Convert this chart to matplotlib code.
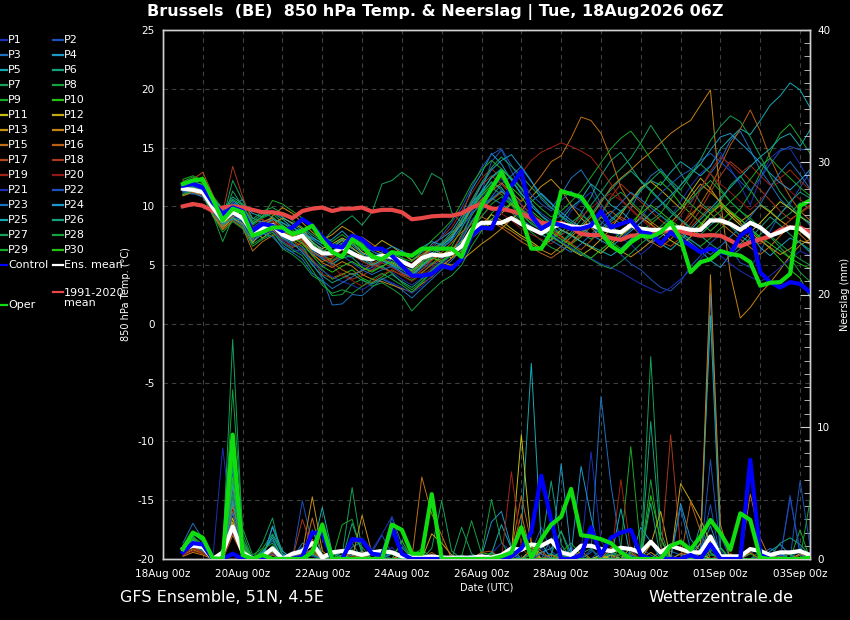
import matplotlib
matplotlib.use("Agg")
import matplotlib.pyplot as plt
import matplotlib.dates as mdates
from matplotlib.lines import Line2D
from matplotlib.ticker import MultipleLocator
import pandas as pd

plt.rcParams['axes.unicode_minus'] = False

# --- time axis: 6-hourly steps from 18Aug 12Z ---
times = pd.date_range("2026-08-18 12:00", periods=64, freq="6h")
tick_days = pd.date_range("2026-08-18", "2026-09-03", freq="2D")
grid_days = pd.date_range("2026-08-18", "2026-09-03", freq="1D")

# --- 850 hPa temperature, members (degC) ---
t_p1 = [11.2, 11.0, 11.5, 9.8, 8.6, 9.2, 8.8, 7.4, 7.9, 8.3, 7.1, 6.8, 6.2, 5.4, 4.8, 5.3,
        5.9, 5.6, 5.0, 4.6, 4.9, 4.4, 3.8, 3.3, 3.9, 4.8, 5.5, 6.2, 7.4, 9.6, 10.8, 11.6,
        12.3, 11.4, 10.2, 9.1, 8.0, 7.4, 8.2, 9.6, 10.5, 11.2, 9.8, 8.6, 7.3, 6.8, 5.9, 6.6,
        7.8, 9.1, 10.4, 11.7, 12.8, 13.5, 14.6, 13.2, 11.8, 10.1, 12.4, 14.1, 14.8, 14.9, 13.6, 12.0]
t_p2 = [11.6, 11.8, 11.4, 10.1, 9.0, 10.4, 9.6, 8.2, 8.8, 8.0, 7.4, 7.0, 7.6, 6.3, 5.6, 5.0,
        5.8, 5.2, 4.6, 4.8, 5.3, 5.0, 4.4, 3.9, 4.6, 5.2, 5.0, 5.6, 7.1, 9.4, 11.2, 13.8,
        14.8, 13.0, 11.4, 10.2, 9.4, 8.8, 9.2, 10.1, 9.6, 8.4, 7.6, 6.8, 5.9, 5.1, 4.6, 3.8,
        3.1, 2.8, 3.6, 4.9, 5.8, 6.9, 7.6, 6.4, 5.2, 4.8, 6.1, 7.9, 9.4, 10.2, 11.6, 12.9]
t_p3 = [11.0, 11.3, 10.9, 9.5, 8.2, 9.1, 8.6, 7.0, 7.6, 7.9, 6.7, 6.1, 6.4, 5.1, 3.9, 1.6,
        1.7, 2.5, 2.4, 3.1, 3.8, 3.4, 2.9, 2.2, 3.0, 3.8, 4.6, 5.4, 6.3, 8.1, 9.6, 10.8,
        11.9, 12.6, 13.4, 12.2, 10.6, 9.8, 11.0, 12.4, 13.1, 11.8, 10.2, 9.1, 8.5, 9.8, 11.4, 12.6,
        13.2, 12.1, 11.0, 10.3, 11.6, 12.8, 13.9, 15.6, 16.4, 14.8, 13.1, 11.9, 10.6, 9.8, 9.2, 8.4]
t_p4 = [11.4, 11.9, 11.7, 10.4, 9.3, 10.0, 10.6, 9.0, 8.6, 9.1, 8.4, 7.8, 8.1, 7.4, 6.8, 7.2,
        7.9, 7.1, 6.6, 6.2, 5.8, 5.5, 4.9, 4.6, 5.6, 6.8, 7.3, 7.9, 9.2, 11.4, 12.8, 14.5,
        13.6, 12.2, 11.0, 10.4, 11.1, 10.3, 9.2, 8.6, 8.0, 7.5, 8.1, 8.9, 9.6, 8.8, 7.5, 6.9,
        7.4, 8.1, 7.6, 6.9, 6.2, 5.4, 4.8, 5.9, 6.8, 7.7, 6.5, 5.8, 6.6, 7.3, 6.9, 6.1]
t_p5 = [11.9, 12.3, 12.1, 10.8, 9.6, 10.8, 10.2, 9.4, 9.1, 9.5, 8.9, 8.2, 7.8, 7.2, 6.6, 6.2,
        6.9, 6.4, 5.9, 5.2, 4.8, 5.6, 6.2, 5.4, 6.1, 6.6, 6.4, 7.2, 8.8, 10.3, 11.2, 12.0,
        11.6, 10.4, 9.8, 9.1, 8.4, 7.9, 8.8, 9.9, 10.6, 11.9, 11.2, 10.1, 9.6, 10.4, 11.5, 12.2,
        11.8, 12.9, 13.8, 13.2, 12.6, 13.4, 14.9, 15.8, 16.6, 16.1, 17.3, 18.6, 19.4, 20.5, 19.9, 18.4]
t_p6 = [11.3, 11.6, 11.9, 9.6, 8.4, 9.4, 9.0, 7.6, 8.2, 8.6, 7.9, 7.5, 7.0, 6.2, 5.5, 5.1,
        5.6, 5.8, 5.4, 4.9, 5.5, 6.1, 5.6, 5.0, 5.8, 6.4, 6.9, 7.8, 8.4, 10.1, 11.3, 12.4,
        13.1, 12.4, 11.6, 10.3, 9.2, 8.4, 7.6, 8.1, 9.4, 10.8, 12.6, 13.9, 14.6, 13.4, 12.1, 11.3,
        10.4, 9.5, 8.8, 8.1, 7.6, 8.4, 9.1, 8.3, 7.5, 6.9, 7.6, 8.4, 9.3, 10.4, 11.2, 10.7]
t_p7 = [11.7, 12.0, 11.8, 10.2, 8.9, 12.2, 10.5, 8.9, 9.6, 9.9, 9.4, 8.8, 8.2, 7.6, 7.0, 7.9,
        8.6, 9.2, 8.4, 9.5, 11.9, 12.2, 12.9, 12.3, 11.0, 12.8, 12.3, 9.5, 8.6, 9.8, 11.0, 12.1,
        11.4, 10.2, 9.3, 8.5, 8.0, 7.4, 6.9, 7.8, 8.9, 10.1, 11.2, 12.4, 13.2, 14.1, 15.4, 16.9,
        15.6, 14.2, 12.8, 11.6, 10.3, 9.6, 10.4, 11.8, 12.6, 11.4, 10.2, 9.6, 8.8, 9.4, 10.3, 9.8]
t_p8 = [11.1, 11.4, 11.2, 9.3, 7.0, 9.0, 8.3, 6.6, 7.2, 7.6, 6.4, 5.9, 5.2, 4.1, 3.6, 2.4,
        2.5, 3.4, 3.8, 3.2, 3.5, 3.0, 2.4, 1.1, 2.0, 2.8, 3.6, 4.1, 5.0, 6.6, 7.9, 9.4,
        10.2, 9.5, 8.6, 7.8, 7.1, 6.5, 6.1, 6.9, 7.8, 8.4, 9.3, 10.6, 11.2, 10.4, 9.6, 8.8,
        9.4, 10.6, 11.8, 12.9, 13.6, 12.8, 11.5, 10.4, 9.6, 9.0, 8.2, 7.4, 6.5, 5.6, 4.4, 3.6]
t_p9 = [12.1, 12.5, 12.0, 10.9, 9.8, 10.2, 9.8, 8.4, 9.0, 9.4, 8.6, 8.0, 7.3, 6.8, 5.9, 5.4,
        6.0, 5.7, 4.8, 4.5, 4.9, 4.3, 3.5, 2.9, 3.6, 4.5, 5.2, 6.0, 7.6, 9.2, 10.5, 11.6,
        11.0, 10.1, 9.0, 8.1, 7.6, 7.1, 7.8, 8.6, 9.3, 8.6, 7.7, 7.0, 6.4, 7.1, 7.9, 8.5,
        9.2, 8.6, 7.8, 7.1, 6.6, 7.3, 8.1, 8.9, 9.8, 11.1, 12.8, 14.6, 16.2, 17.0, 15.8, 14.5]
t_p10 = [11.8, 12.1, 12.5, 10.5, 9.1, 9.7, 9.1, 7.7, 8.4, 8.8, 7.5, 7.1, 6.6, 5.3, 4.6, 3.8,
         4.2, 4.6, 3.9, 3.5, 4.0, 4.6, 4.1, 3.7, 4.3, 5.1, 5.8, 6.6, 8.1, 9.9, 10.9, 11.8,
         12.5, 11.6, 10.8, 9.6, 8.9, 8.2, 7.5, 6.8, 7.4, 8.3, 9.1, 8.4, 7.6, 8.1, 9.6, 11.2,
         12.1, 11.3, 10.2, 9.4, 8.6, 7.9, 8.7, 9.5, 8.9, 8.1, 7.2, 6.4, 5.5, 4.6, 3.9, 2.3]
t_p11 = [11.5, 11.7, 11.3, 9.7, 8.5, 9.3, 9.6, 8.1, 7.3, 8.0, 7.7, 7.4, 7.9, 6.9, 6.4, 6.8,
         7.3, 6.9, 6.1, 5.7, 5.4, 5.2, 4.8, 4.2, 5.0, 5.5, 5.9, 6.3, 7.0, 7.8, 8.4, 9.3,
         8.8, 8.1, 7.5, 7.0, 6.4, 7.2, 8.0, 7.6, 7.0, 6.5, 6.0, 6.8, 7.5, 8.2, 9.1, 8.5,
         7.8, 7.1, 6.6, 7.4, 8.3, 9.4, 10.1, 9.2, 8.4, 7.8, 8.6, 9.5, 10.4, 9.8, 9.1, 8.6]
t_p12 = [10.9, 11.2, 11.0, 9.2, 8.1, 9.0, 8.5, 6.9, 7.9, 8.5, 9.0, 8.6, 8.1, 7.0, 6.2, 6.5,
         7.1, 6.5, 5.8, 6.4, 7.1, 6.6, 6.0, 5.4, 5.9, 6.4, 6.0, 5.6, 6.2, 7.3, 8.0, 8.6,
         9.4, 10.2, 9.5, 8.8, 8.1, 7.5, 6.9, 6.3, 5.8, 6.4, 7.2, 8.1, 9.3, 10.5, 11.6, 12.1,
         11.4, 10.6, 9.8, 11.2, 12.4, 11.5, 10.3, 9.4, 8.7, 9.3, 10.1, 9.5, 8.8, 8.2, 7.9, 7.2]
t_p13 = [11.6, 11.4, 11.1, 9.9, 8.7, 9.4, 8.9, 7.2, 8.0, 9.2, 9.9, 9.4, 8.6, 7.8, 7.1, 7.6,
         8.3, 7.8, 7.0, 6.4, 6.0, 5.5, 5.0, 4.5, 5.3, 5.7, 5.2, 5.0, 5.4, 6.1, 6.8, 7.4,
         8.1, 8.9, 9.6, 10.8, 11.7, 12.3, 11.4, 10.1, 9.0, 8.2, 7.4, 6.7, 6.2, 5.7, 6.3, 7.0,
         7.8, 8.6, 9.5, 10.8, 11.9, 11.2, 10.4, 9.5, 8.6, 7.8, 7.1, 6.5, 5.9, 6.4, 7.1, 6.8]
t_p14 = [11.3, 11.5, 11.7, 10.0, 8.3, 9.1, 9.3, 7.9, 8.7, 9.0, 8.1, 7.4, 7.2, 6.0, 5.2, 4.8,
         5.3, 4.9, 4.2, 3.8, 3.6, 3.3, 3.0, 2.7, 3.4, 4.0, 4.9, 5.6, 6.8, 7.6, 8.3, 8.9,
         8.4, 7.9, 7.3, 6.8, 6.3, 5.9, 6.6, 7.4, 8.2, 9.1, 10.3, 11.6, 12.4, 13.1, 13.9, 14.6,
         15.4, 16.2, 16.8, 17.3, 18.6, 19.9, 10.5, 4.2, 0.5, 1.4, 2.6, 3.5, 4.6, 5.8, 6.7, 7.2]
t_p15 = [11.0, 11.2, 10.8, 9.4, 8.0, 8.8, 8.2, 6.2, 7.0, 7.5, 7.9, 7.3, 6.8, 5.9, 5.3, 5.6,
         6.4, 6.9, 7.4, 6.8, 6.2, 5.9, 5.4, 5.0, 5.7, 6.3, 6.8, 7.5, 8.6, 9.7, 10.6, 11.3,
         12.0, 11.2, 10.4, 11.5, 12.6, 13.8, 14.3, 15.8, 17.6, 17.3, 16.2, 14.1, 11.6, 10.2, 9.4, 8.7,
         8.1, 7.6, 8.4, 9.3, 10.1, 9.4, 8.6, 7.9, 7.2, 6.5, 5.9, 6.6, 7.5, 8.3, 7.6, 6.8]
t_p16 = [11.4, 11.1, 11.6, 9.6, 8.1, 9.6, 9.2, 7.6, 8.3, 8.1, 7.0, 6.5, 6.9, 6.1, 5.7, 5.2,
         4.6, 4.2, 4.5, 5.1, 5.6, 5.1, 4.7, 4.4, 4.9, 5.4, 6.1, 6.9, 7.8, 8.5, 9.1, 8.7,
         8.2, 7.6, 7.0, 6.5, 6.0, 5.6, 6.2, 6.9, 7.7, 8.4, 9.0, 9.6, 8.9, 8.3, 7.6, 7.0,
         6.5, 7.2, 8.1, 9.0, 10.2, 11.6, 13.4, 15.2, 16.6, 18.2, 16.4, 14.1, 12.3, 10.8, 9.6, 8.8]
t_p17 = [12.0, 12.3, 12.9, 11.0, 9.2, 10.0, 9.4, 8.0, 8.6, 8.8, 7.8, 7.3, 7.1, 6.6, 5.8, 5.3,
         5.8, 6.2, 5.6, 5.1, 4.7, 4.5, 4.2, 3.9, 4.4, 5.0, 5.6, 6.3, 7.4, 8.6, 9.8, 10.5,
         11.2, 10.6, 9.8, 9.1, 8.5, 7.9, 7.4, 6.8, 6.3, 7.1, 7.9, 8.5, 9.1, 8.6, 8.0, 7.5,
         7.0, 6.6, 7.3, 8.2, 9.1, 10.0, 9.2, 8.4, 7.9, 7.3, 6.8, 7.4, 8.1, 8.8, 9.5, 10.1]
t_p18 = [12.2, 11.8, 11.5, 10.6, 9.5, 13.4, 10.8, 8.6, 8.9, 8.4, 7.6, 7.1, 6.3, 5.5, 4.2, 3.9,
         4.3, 3.8, 4.1, 4.6, 5.2, 4.8, 4.3, 3.9, 4.6, 5.4, 6.5, 7.6, 8.9, 10.4, 11.8, 12.6,
         11.9, 11.0, 10.1, 9.4, 8.7, 8.1, 7.4, 6.9, 7.5, 8.3, 9.4, 10.8, 11.9, 11.1, 10.4, 9.6,
         8.8, 8.2, 7.6, 8.5, 9.7, 11.2, 12.6, 13.8, 13.1, 12.2, 11.4, 10.5, 9.6, 8.9, 9.4, 10.0]
t_p19 = [11.8, 12.1, 11.6, 10.4, 9.0, 9.8, 9.0, 7.5, 8.2, 8.7, 8.3, 7.7, 7.4, 6.7, 6.0, 5.7,
         6.3, 5.9, 5.3, 4.9, 5.3, 5.8, 5.4, 5.1, 5.9, 6.6, 7.4, 8.2, 9.6, 11.1, 12.4, 13.2,
         12.4, 11.6, 12.8, 13.9, 14.6, 15.0, 15.4, 15.1, 14.7, 14.2, 13.1, 11.9, 10.6, 9.8, 9.0, 8.4,
         7.9, 7.5, 8.2, 9.6, 11.4, 13.0, 14.2, 13.6, 12.8, 13.5, 12.6, 11.8, 12.4, 13.1, 12.2, 11.4]
t_p20 = [11.5, 11.3, 11.0, 9.8, 8.9, 9.4, 9.7, 8.3, 7.7, 8.2, 7.2, 6.6, 7.0, 6.4, 5.9, 4.9,
         4.1, 3.7, 3.2, 3.6, 4.2, 4.6, 4.1, 3.6, 4.2, 4.7, 5.3, 5.9, 6.8, 8.3, 9.2, 10.0,
         9.4, 8.8, 8.1, 7.6, 7.2, 6.8, 7.5, 8.3, 9.1, 9.8, 10.6, 11.1, 10.5, 9.7, 8.9, 8.2,
         7.6, 8.3, 9.2, 10.4, 11.5, 12.8, 11.9, 11.2, 10.4, 9.7, 10.5, 11.6, 12.1, 11.3, 10.6, 9.8]
t_p21 = [11.2, 11.5, 11.3, 9.9, 8.7, 9.3, 8.7, 7.3, 7.6, 7.9, 7.0, 6.4, 6.0, 5.2, 4.5, 4.0,
         3.6, 3.3, 2.9, 3.4, 3.9, 3.5, 3.1, 2.6, 3.2, 4.1, 5.0, 5.9, 7.3, 8.8, 9.9, 10.7,
         11.4, 10.6, 9.7, 8.9, 8.2, 7.6, 7.0, 6.5, 6.0, 5.6, 5.1, 4.8, 4.4, 3.9, 3.4, 3.0,
         2.6, 3.1, 3.8, 4.6, 5.5, 6.4, 5.8, 5.1, 4.5, 4.0, 3.6, 4.1, 4.8, 5.5, 6.2, 5.8]
t_p22 = [11.7, 11.9, 11.5, 10.2, 9.1, 10.3, 10.0, 8.0, 8.4, 8.2, 7.3, 6.7, 6.5, 6.0, 5.6, 6.1,
         6.8, 7.4, 6.9, 6.2, 5.7, 5.3, 4.8, 4.3, 5.1, 6.3, 7.5, 8.6, 9.9, 11.6, 13.3, 14.4,
         14.9, 13.5, 12.1, 11.0, 10.2, 9.6, 10.5, 11.3, 10.4, 9.5, 8.7, 8.0, 7.3, 8.1, 9.0, 10.2,
         11.1, 11.9, 12.6, 13.1, 13.9, 14.5, 13.8, 13.0, 12.1, 11.3, 12.4, 13.6, 14.7, 15.1, 14.8, 14.9]
t_p23 = [11.3, 11.1, 10.8, 9.5, 8.5, 8.9, 8.4, 7.1, 7.7, 7.4, 6.5, 6.1, 5.5, 4.3, 3.7, 3.0,
         3.5, 4.0, 4.6, 4.2, 4.6, 4.9, 4.4, 4.0, 4.8, 5.6, 6.4, 7.1, 8.2, 9.4, 10.1, 10.7,
         10.2, 9.6, 8.9, 8.3, 7.7, 7.1, 6.6, 6.1, 6.8, 7.6, 8.5, 9.4, 10.3, 11.2, 10.6, 9.9,
         9.2, 8.5, 7.8, 7.2, 6.5, 5.9, 6.6, 7.4, 8.2, 9.1, 10.2, 11.6, 12.9, 13.8, 12.7, 11.5]
t_p24 = [11.6, 11.4, 11.8, 10.3, 9.4, 10.1, 9.3, 7.8, 8.3, 8.9, 8.6, 8.2, 7.7, 7.3, 6.9, 6.5,
         7.2, 6.7, 6.0, 5.6, 6.1, 6.6, 6.2, 5.7, 6.5, 7.0, 6.7, 7.3, 8.5, 10.2, 11.8, 13.1,
         13.9, 14.4, 13.3, 12.1, 11.0, 10.2, 9.5, 8.8, 8.2, 7.6, 7.1, 6.6, 7.2, 7.9, 8.6, 9.4,
         10.1, 10.9, 11.8, 12.7, 13.6, 14.8, 15.9, 16.2, 15.4, 14.6, 13.7, 12.8, 12.0, 11.4, 12.2, 13.1]
t_p25 = [11.9, 12.2, 11.8, 10.7, 9.7, 10.5, 9.9, 8.5, 9.2, 9.6, 9.1, 8.5, 7.9, 7.0, 6.3, 5.9,
         6.5, 6.2, 5.6, 5.0, 5.4, 5.0, 4.6, 4.1, 4.9, 5.8, 6.6, 7.4, 8.5, 9.9, 11.2, 12.5,
         13.2, 12.3, 11.1, 10.0, 9.2, 8.6, 8.0, 7.5, 7.0, 6.6, 6.2, 5.8, 6.4, 7.2, 8.0, 7.4,
         6.8, 6.3, 7.1, 8.0, 8.9, 9.8, 10.7, 11.6, 12.5, 13.4, 14.2, 14.9, 15.8, 16.2, 15.1, 16.5]
t_p26 = [11.4, 11.7, 11.3, 9.8, 8.4, 9.0, 8.8, 7.4, 8.0, 8.3, 7.3, 6.9, 6.1, 5.0, 4.1, 3.5,
         3.9, 4.3, 3.7, 3.4, 3.8, 4.2, 3.6, 3.1, 3.8, 4.6, 5.3, 6.0, 7.1, 8.7, 9.8, 10.6,
         11.3, 10.5, 9.6, 8.8, 8.1, 7.5, 6.9, 7.6, 8.4, 9.3, 10.5, 11.4, 12.3, 13.0, 12.2, 11.4,
         10.5, 9.7, 8.9, 8.2, 7.5, 6.8, 6.2, 5.7, 6.4, 7.3, 8.2, 9.1, 8.4, 7.6, 6.9, 6.3]
t_p27 = [11.8, 11.5, 11.9, 10.1, 8.8, 11.3, 10.0, 8.7, 9.4, 9.1, 8.3, 7.8, 7.6, 6.8, 6.1, 6.6,
         7.2, 6.8, 6.3, 5.9, 5.5, 5.1, 4.7, 4.3, 5.2, 6.0, 6.8, 7.6, 8.9, 10.5, 12.0, 13.3,
         14.2, 13.4, 12.6, 11.6, 10.8, 9.9, 9.1, 8.4, 7.8, 7.2, 7.9, 8.7, 9.5, 10.4, 11.3, 12.2,
         13.0, 12.2, 11.4, 12.6, 14.0, 15.6, 16.8, 17.7, 17.2, 15.9, 14.3, 12.6, 11.2, 10.1, 9.2, 8.6]
t_p28 = [11.0, 11.3, 11.1, 9.2, 7.8, 8.7, 8.1, 6.8, 7.3, 7.8, 6.9, 6.3, 5.8, 4.6, 3.3, 2.6,
         2.9, 2.6, 3.2, 3.8, 4.3, 3.8, 3.3, 2.7, 3.5, 4.4, 5.2, 5.9, 6.8, 8.0, 9.1, 10.2,
         10.8, 10.1, 9.3, 8.6, 8.0, 7.4, 6.9, 6.4, 5.9, 5.5, 5.0, 4.7, 5.3, 6.0, 6.8, 7.5,
         8.3, 9.1, 9.9, 10.6, 11.4, 12.2, 11.3, 10.4, 9.6, 8.8, 8.1, 7.5, 6.8, 6.1, 5.5, 5.0]
t_p29 = [12.3, 12.6, 12.2, 10.6, 9.4, 10.6, 10.1, 8.6, 9.1, 10.5, 10.2, 9.6, 9.0, 8.3, 7.5, 7.0,
         7.6, 7.0, 6.4, 6.0, 5.5, 6.0, 5.6, 5.3, 6.2, 7.1, 7.9, 8.8, 10.3, 11.9, 13.1, 13.9,
         13.2, 12.4, 11.5, 10.6, 9.8, 9.1, 9.6, 10.4, 11.3, 12.5, 13.7, 14.9, 15.8, 16.4, 15.3, 14.0,
         12.9, 11.9, 11.0, 10.2, 9.5, 8.9, 9.6, 10.4, 11.2, 12.3, 13.4, 14.1, 13.2, 12.4, 11.6, 10.9]
t_p30 = [11.5, 11.8, 12.0, 10.3, 8.9, 9.5, 9.2, 7.7, 8.5, 8.4, 7.7, 7.3, 6.9, 5.8, 4.9, 4.4,
         4.9, 5.3, 4.8, 4.4, 4.9, 5.3, 4.9, 4.5, 5.1, 5.6, 5.4, 5.9, 6.6, 7.4, 8.1, 8.9,
         9.6, 10.3, 9.7, 9.0, 8.4, 7.8, 7.2, 6.7, 6.1, 5.6, 6.3, 7.0, 7.8, 8.6, 9.4, 10.1,
         9.5, 8.8, 8.2, 7.7, 8.5, 9.4, 10.3, 9.6, 8.9, 8.1, 7.4, 6.8, 6.2, 5.6, 5.1, 4.7]

# --- precipitation, members (mm / 6h) ---
p_p1 = [0.6, 1.2, 0.8, 0, 8.4, 2.1, 0.3, 0, 0.4, 0, 0, 0, 0.5, 0.2, 0, 0,
        0, 0.3, 0.6, 0, 0, 0.9, 0, 0, 0, 0, 0, 0, 0, 0, 0, 0.4,
        1.2, 0.6, 0, 0, 0.8, 0.3, 0, 0, 0.5, 8.1, 1.4, 0, 0, 0.6, 0, 0,
        0, 0.3, 0, 0, 0.4, 1.8, 0, 0, 0, 0, 0, 0.5, 0, 4.5, 0.8, 0]
p_p2 = [0.4, 0.9, 1.1, 0, 0, 4.6, 0.4, 0, 0, 0.3, 0, 0, 4.4, 1.1, 0, 0,
        0, 0, 0, 0.5, 1.8, 0.4, 0, 0, 0, 0, 0.2, 0, 0, 0, 0, 0,
        0, 0.3, 0, 0.5, 2.4, 0.6, 0, 0.9, 0, 0, 0.7, 0, 0, 0, 0.8, 0.3,
        0, 0, 0.4, 0.2, 0, 7.5, 0.6, 0, 0, 0.4, 0.9, 0, 0.3, 0, 5.9, 1.0]
p_p3 = [1.2, 2.7, 1.5, 0, 0.2, 5.8, 0.9, 0, 0.6, 1.4, 0, 0, 1.2, 0.8, 0.3, 0,
        0, 0.9, 1.3, 0.6, 0.2, 3.2, 1.1, 0, 0, 0.2, 0, 0, 0, 0.3, 0, 0,
        0, 0, 0, 0.4, 0, 1.6, 0.3, 0, 0, 0.5, 12.3, 5.6, 0.8, 0, 0, 0,
        0, 0.6, 0.3, 0, 0.7, 20.1, 1.8, 0, 0, 0, 0.3, 0.8, 0.4, 0, 0, 0.5]
p_p4 = [0.8, 1.6, 1.0, 0, 0, 4.2, 1.1, 0.2, 0, 2.4, 0.3, 0, 0.8, 0.4, 0, 0.5,
        0.2, 0, 0.4, 0.3, 0, 0.6, 0, 0, 0, 0, 0, 0, 0, 0, 0.2, 2.8,
        3.6, 0.9, 0, 0, 0.5, 0.8, 2.1, 0.4, 0, 0, 0, 0.6, 0, 0, 2.4, 1.3,
        0, 0, 4.2, 1.5, 0.6, 2.5, 0.3, 0, 0, 0, 0, 0.6, 1.1, 0.3, 0, 0.4]
p_p5 = [0.5, 1.8, 0.7, 0, 0, 6.1, 0.8, 0, 0.3, 1.8, 0.4, 0, 0, 0.6, 3.9, 0.5,
        0, 0.3, 0, 0, 0, 0.4, 0, 0, 0.5, 0, 0, 0, 0, 0, 0, 0.4,
        2.6, 0.8, 2.2, 14.8, 1.2, 0, 0.6, 0, 0, 0, 0.3, 0, 0.4, 0, 0, 0,
        0.6, 0, 0, 0.4, 1.2, 18.4, 0.9, 0, 0, 0, 0, 0, 0.5, 0, 0.3, 0]
p_p6 = [0.9, 1.4, 1.2, 0, 0.3, 7.2, 1.5, 0, 0.5, 0.8, 0, 0, 0, 0.4, 0.2, 0,
        0.6, 1.2, 0, 0, 0, 0, 0.4, 0, 0, 0, 0, 0, 0.3, 0, 0, 0,
        0.3, 0, 0, 0, 0.9, 5.9, 1.1, 0, 0, 0, 0, 0.4, 0, 0, 0, 10.4,
        1.6, 0, 0, 0, 2.6, 0.5, 0, 0, 0, 0, 0, 0.2, 1.2, 1.6, 1.1, 0.3]
p_p7 = [0.7, 2.0, 1.3, 0, 0.6, 16.6, 1.9, 0, 1.2, 3.1, 0, 0, 0, 0.8, 0, 0,
        0.3, 5.4, 0.6, 0, 0, 0.4, 0.9, 0, 0, 0.8, 4.4, 0.6, 0, 0, 0, 0,
        0, 0, 0, 0, 0, 0.4, 0, 0, 0.4, 0.8, 0, 0, 0, 0, 0, 15.3,
        2.1, 0, 0, 0.6, 0, 0.4, 0, 0, 0, 0, 0.6, 0, 0, 0, 0, 0.3]
p_p8 = [0.9, 1.7, 1.1, 0, 0.4, 12.8, 2.3, 0.3, 0.8, 1.9, 0.6, 0, 0, 0.5, 0, 0,
        0, 1.6, 0.9, 0, 0, 0, 0, 0, 0, 0, 0.3, 0, 0.2, 2.9, 0.4, 4.5,
        1.3, 0, 0, 0.8, 0, 0.4, 2.1, 0, 0, 0, 0, 0.6, 0.2, 0, 0, 6.0,
        0.9, 0, 0, 0, 0, 0.3, 0.2, 0, 0, 6.7, 0.8, 0, 0, 0.4, 0, 4.4]
p_p9 = [0.6, 1.3, 0.9, 0, 0, 5.4, 1.0, 0, 0.2, 1.0, 0, 0, 0, 0, 0, 0,
        2.6, 3.0, 0.4, 0, 0.3, 0, 0, 0.2, 0.8, 0, 0, 0, 0, 0, 0, 0,
        0, 0, 0, 0.3, 0, 0, 0.5, 1.2, 0.3, 0, 0, 0, 0.9, 8.5, 0.6, 0,
        0, 0, 0, 0, 0.5, 0, 0, 0, 0, 0.8, 0.4, 0, 0, 0, 2.2, 0]
p_p10 = [1.0, 1.9, 1.4, 0, 0.2, 7.8, 1.2, 0, 0.4, 0.6, 0, 0, 0.6, 0.3, 0, 0,
         0, 0.7, 0, 0, 0, 0, 1.4, 0, 0, 0, 0, 0, 0, 0, 0.5, 0.3,
         0, 0, 0, 0, 0, 0, 0, 0.4, 0, 0, 0.2, 0, 0, 0.5, 0, 4.8,
         1.5, 0, 0, 0, 0, 0.6, 0.8, 0, 0, 0.4, 0, 0, 0, 0, 0, 0]
p_p11 = [0.4, 0.8, 0.5, 0, 0, 3.1, 0.6, 0, 0, 0.4, 0, 0, 0, 0, 0, 0,
         0, 0.5, 0, 0, 0, 0, 0, 0, 0.3, 0, 0, 0, 0, 0, 0, 0,
         0, 0.4, 9.4, 1.2, 0, 0.3, 0, 0, 0, 0, 0, 0.3, 0, 0.9, 0.2, 0,
         0, 0, 0, 0, 0.4, 0, 0, 0, 0, 0, 0, 0.3, 0, 0, 0, 0]
p_p12 = [0.5, 1.1, 0.6, 0, 0, 2.8, 0.4, 0, 0.3, 0, 0, 0, 0.4, 0.7, 0, 0,
         0.2, 0, 0, 0, 0, 0, 0.3, 0, 0, 1.9, 1.2, 0.3, 0, 0, 0, 0,
         0, 0, 0.6, 0.9, 0.4, 0, 0, 0, 0, 0, 0.3, 0, 0, 0, 0, 1.1,
         3.6, 0, 5.7, 4.4, 3.0, 1.2, 0, 0, 0, 0, 0, 0, 0, 0, 0.4, 0]
p_p13 = [0.3, 0.7, 0.4, 0, 0, 1.8, 0.3, 0, 0, 0.3, 0, 0, 0.5, 4.7, 0.6, 0,
         0, 0, 3.3, 0.4, 0, 0, 0, 0, 0, 0, 0, 0, 0, 0, 0, 0,
         0, 0, 0, 0.7, 0, 0, 0, 0, 0, 0, 0, 0, 0, 0, 0, 0.5,
         0, 0, 0.4, 0.3, 0, 0, 0, 0, 0, 0, 0, 0, 0.2, 0, 0, 0]
p_p14 = [0.2, 0.5, 0.3, 0, 0, 2.4, 0.2, 0, 0, 0, 0, 0, 0, 0.8, 0.4, 0,
         0, 0, 0, 0, 0, 0, 0, 0, 0, 0, 0, 0, 0, 0, 0, 0,
         0, 0, 0, 0, 0, 0, 0, 0, 0.6, 0, 0, 0, 0, 0, 0, 0,
         0, 0, 0, 0, 1.2, 21.5, 2.6, 0, 0, 0, 0, 0, 0, 0, 0, 0]
p_p15 = [0.6, 1.0, 0.7, 0, 0, 4.0, 0.9, 0, 0.3, 0.4, 0, 0, 0, 3.1, 0.2, 0,
         0, 0, 0.6, 0, 0, 0, 0.4, 0, 6.2, 3.4, 1.8, 0, 0, 0, 0, 0,
         0, 0.4, 3.4, 0.3, 0, 0, 0.2, 0, 0, 0, 0, 0, 0, 0, 0, 0,
         0, 0, 0, 0, 0, 0, 0, 0.4, 0, 4.9, 1.6, 0, 0, 0, 0.3, 0]
p_p16 = [0.4, 0.9, 0.6, 0, 0, 3.6, 0.7, 0, 0.2, 0.5, 0, 0.4, 0, 1.5, 0, 0,
         0, 0.6, 0.3, 0, 0, 0, 0, 0, 0, 0.5, 0, 0, 0, 0, 0, 0,
         0, 0.6, 4.8, 1.2, 0.6, 0, 0, 0, 0, 0, 0, 0.9, 0.4, 0, 0, 0,
         0, 0, 0, 4.3, 2.1, 0, 0.3, 0, 0, 0.5, 0, 0, 0, 0, 0, 0]
p_p17 = [0.7, 1.1, 0.6, 0, 0, 4.5, 0.8, 0, 0, 0.3, 0, 0, 0, 0.5, 0, 0,
         0, 0, 0.3, 0, 0, 0, 0, 0, 0, 0, 0, 0, 0, 0, 0.5, 0.6,
         0, 0, 0, 0, 0, 0.3, 0, 0, 0, 0, 0, 0, 0, 0.4, 0, 0,
         0, 0, 0, 0, 0, 0, 0, 0, 0, 0, 0, 0, 0, 0, 0.3, 0]
p_p18 = [0.5, 1.0, 0.8, 0, 0, 5.2, 1.0, 0, 0, 0, 0, 0, 3.0, 0.8, 0, 0,
         0, 0, 0, 0, 0, 0, 0, 0, 0, 0.3, 0, 0, 0, 0, 0, 0,
         0, 0, 0, 0, 0, 0, 0, 0, 0, 0, 0, 0, 0.4, 0, 0, 0,
         0, 9.4, 0.8, 0, 0, 0, 0, 0, 0, 0, 0, 0, 0, 0, 0, 0]
p_p19 = [0.3, 0.6, 0.4, 0, 0, 1.9, 0.3, 0, 0, 0, 0, 0, 0, 0, 0, 0,
         0, 0.2, 0, 0, 0, 0, 0, 0, 0, 0, 0, 0, 0, 0, 0, 0,
         0, 6.6, 0.9, 0, 0, 0, 0, 0, 0, 0, 0, 0, 6.0, 0.6, 0, 0,
         0, 0, 0, 0, 0, 0, 0, 0, 0, 0, 0, 0, 0, 0, 0, 0]
p_p20 = [0.4, 0.8, 0.5, 0, 0, 2.6, 0.5, 0, 0, 0, 0, 0, 0, 0, 0, 0,
         0, 0, 0, 0, 0, 0, 0, 0, 0, 0, 0, 0, 0, 0, 0, 0.4,
         0, 0, 0, 0, 0, 0, 0, 0, 0, 0, 0, 0, 0, 0, 0, 0,
         0, 0, 0, 0, 0, 0, 0, 0, 0, 0, 0, 0, 0, 0, 0, 0]
p_p21 = [0.9, 1.5, 0.9, 0, 0.2, 6.4, 0.8, 0, 0, 0.4, 0, 0, 0, 0, 0, 0,
         0, 1.2, 1.6, 0.7, 1.9, 3.2, 0.5, 0, 0, 0, 0, 0, 0, 0, 0, 0,
         0, 0, 0, 0, 0, 0, 0, 0.6, 0, 2.1, 0, 0, 0, 0, 0, 0,
         0, 0, 0, 0, 0, 0, 0, 0, 0, 0, 0, 0, 0, 0, 0, 0]
p_p22 = [0.6, 1.3, 0.9, 0, 0, 5.0, 0.6, 0, 0.3, 0, 0, 0, 0, 0, 0, 0,
         0, 0, 0, 0, 0.4, 0, 0, 0, 0, 0, 0, 0, 0, 0, 0, 0,
         0, 0, 0, 0, 0.4, 0, 0, 0, 0, 0.7, 0, 0, 0, 0, 0, 0,
         0, 0, 0, 0, 0.6, 4.1, 0, 0, 0, 0, 0, 0, 0, 4.8, 0.3, 0]
p_p23 = [0.5, 1.1, 0.6, 0, 0, 3.5, 0.4, 0, 0, 0, 0, 0, 0.9, 0.3, 0, 0,
         0, 0, 0, 0, 0, 0.5, 0, 0, 0, 0, 0, 0, 0, 0, 0, 0,
         0, 0.3, 0, 0, 0, 0, 0, 0, 0, 0, 0, 0, 0, 0.3, 0, 0,
         0, 0, 3.9, 0.7, 0, 0, 0, 0, 0, 0, 0, 0, 0, 0, 0.8, 0]
p_p24 = [0.6, 1.2, 0.7, 0, 0, 4.4, 0.5, 0, 0, 2.5, 0.6, 0, 0, 0, 0, 0,
         0, 0, 0, 0, 0, 0, 0, 0, 0, 0, 0, 0, 0, 0, 0, 0,
         0, 0, 0, 0, 0, 0, 7.2, 0.4, 7.0, 3.2, 0, 0, 0, 0, 0, 0,
         0, 0, 0, 0, 0, 0, 0, 0, 0, 0, 0, 0, 0, 0, 0, 0]
p_p25 = [0.8, 1.4, 1.0, 0, 0, 5.6, 0.7, 0, 0.5, 1.6, 0, 0, 0.3, 2.2, 0.3, 0,
         0, 0, 0, 0, 0, 0, 0, 0, 0, 0, 0, 0, 0, 0, 0, 0,
         0, 0, 0, 0, 0, 0, 0, 0, 0, 0, 0, 0, 3.8, 0, 0, 0,
         0, 0, 0, 0, 0, 0.8, 0, 0, 0, 0, 0, 0, 0, 0, 0, 0]
p_p26 = [0.7, 1.3, 0.8, 0, 0, 6.8, 0.9, 0, 0.2, 0, 0, 0, 0, 0, 0, 0,
         0, 2.7, 0.5, 0, 0, 0, 0, 0, 0, 0, 0, 0, 0, 0, 0, 0.5,
         0, 0, 0, 0, 0, 0, 0, 0, 0, 0, 0, 0, 0, 0, 0, 4.2,
         0, 0, 0, 0, 0, 0, 0, 0, 0, 0, 0, 0, 0, 0, 0, 0]
p_p27 = [0.6, 1.2, 0.9, 0, 0, 8.6, 1.0, 0, 0.3, 0, 0, 0, 0, 0, 0, 0,
         0, 0, 0, 0, 0, 0, 0, 0, 0, 0, 0, 0, 2.4, 0.4, 0, 0,
         0, 0, 0, 0, 0, 0, 0, 0, 0, 0, 0, 0, 0, 0, 0, 0,
         0, 0, 0, 0, 0, 0, 0, 0, 0, 0, 0, 0, 0, 0, 0, 0]
p_p28 = [0.5, 1.0, 0.7, 0, 0, 4.9, 0.5, 0, 0, 0, 0, 0, 0, 0, 0, 0,
         0, 0, 0, 0, 0, 0, 0, 0, 0, 0, 0, 0, 0, 0, 0, 0,
         0, 0, 0, 0, 0, 0, 0, 0, 0, 0, 0, 0, 0, 0, 0, 0,
         0, 0, 0, 0, 0, 0, 0, 0, 0, 0, 0, 0, 0, 0, 0, 0]
p_p29 = [0.8, 1.6, 1.0, 0, 0, 7.4, 1.4, 0, 0.7, 1.2, 0, 0, 0, 0, 0, 0.4,
         0, 0, 0, 0, 0, 0, 0, 0, 0, 0, 0, 0, 0, 0, 0, 0.4,
         0, 0, 0, 0, 0, 0, 0.3, 0, 0, 0, 0, 0, 0, 0, 0, 0,
         0, 0, 0, 0, 0, 0, 0, 0, 0, 0, 0, 0, 0, 0, 0, 0]
p_p30 = [0.7, 1.5, 1.0, 0, 0, 6.2, 0.8, 0, 0.4, 0.8, 0, 0, 0, 0, 0, 0,
         0, 0, 0, 0, 0, 0, 0, 0, 0, 0, 0, 0, 0, 0, 0, 0,
         0, 0, 0, 0, 0, 0, 0, 0, 0, 0, 0, 0, 0, 0, 0, 0,
         0, 0, 0, 0, 0, 0, 0, 0, 0, 0, 0, 0, 0, 0, 0, 0]

# --- control, ensemble mean, oper, climate ---
t_control = [11.75, 11.9, 11.6, 10.3, 9.35, 9.9, 9.6, 7.9, 8.5, 8.35, 7.9, 8.2, 8.9, 8.35, 7.4, 6.65,
             6.5, 7.5, 7.2, 6.4, 6.4, 5.8, 4.95, 4.1, 4.1, 4.25, 4.95, 4.7, 5.5, 7.5, 8.2, 8.1,
             10.05, 11.75, 13.0, 9.2, 8.1, 8.6, 8.4, 8.1, 8.1, 8.35, 9.6, 8.2, 8.5, 8.8, 7.8, 7.65,
             6.8, 7.8, 7.2, 6.65, 6.1, 6.4, 6.1, 5.95, 7.5, 8.1, 4.4, 3.55, 3.1, 3.55, 3.4, 2.7]
t_mean = [11.5, 11.4, 11.2, 9.9, 8.8, 9.5, 9.0, 7.8, 8.1, 8.4, 7.6, 7.2, 7.5, 6.5, 6.0, 6.0,
          6.5, 6.0, 5.6, 5.5, 5.8, 5.7, 5.3, 4.9, 5.6, 5.9, 5.8, 6.0, 6.6, 8.0, 8.6, 8.6,
          8.6, 9.0, 8.5, 8.1, 7.7, 8.2, 8.5, 8.3, 8.2, 8.4, 8.1, 7.9, 7.8, 8.4, 8.1, 8.0,
          8.0, 8.2, 8.2, 8.0, 8.0, 8.8, 8.8, 8.5, 8.0, 8.6, 8.2, 7.5, 7.8, 8.2, 8.1, 7.4]
t_oper = [11.9, 12.2, 12.3, 10.6, 8.8, 9.8, 9.5, 7.5, 7.8, 8.2, 8.2, 7.65, 7.9, 8.35, 7.1, 6.1,
          5.7, 7.2, 6.65, 5.7, 5.5, 6.1, 5.95, 5.8, 6.4, 6.4, 6.4, 6.4, 5.7, 7.8, 10.1, 11.5,
          12.9, 11.2, 9.1, 6.4, 6.4, 7.8, 11.3, 11.05, 10.8, 9.6, 7.8, 6.65, 6.1, 6.95, 7.5, 7.4,
          7.8, 8.65, 7.2, 4.4, 5.25, 5.5, 6.2, 5.95, 5.8, 5.25, 3.25, 3.5, 3.55, 4.25, 10.05, 10.5]
t_clim = [10.0, 10.2, 10.05, 9.6, 9.9, 10.0, 9.9, 9.7, 9.5, 9.5, 9.35, 9.0, 9.6, 9.8, 9.9, 9.6,
          9.8, 9.8, 9.9, 9.55, 9.7, 9.7, 9.5, 8.9, 9.0, 9.15, 9.2, 9.2, 9.4, 9.9, 10.2, 9.8,
          9.8, 9.6, 9.35, 9.0, 8.6, 8.5, 8.6, 8.2, 7.65, 7.55, 7.55, 7.3, 7.15, 7.5, 7.55, 7.65,
          7.9, 8.0, 7.9, 7.65, 7.5, 7.55, 7.5, 7.1, 6.6, 6.95, 7.2, 7.45, 8.0, 8.2, 8.2, 7.8]

p_control = [0.5, 1.2, 1.1, 0, 0, 0.4, 0, 0, 0, 0, 0, 0, 0.2, 2.0, 1.9, 0,
             0, 1.5, 1.4, 0.4, 0.3, 2.3, 0.4, 0, 0, 0, 0, 0, 0, 0, 0, 0,
             0, 0.2, 0.8, 2.0, 6.3, 2.9, 0, 0, 0.3, 2.4, 0.3, 1.6, 2.0, 2.2, 0.3, 0,
             0, 0, 0, 0.3, 0, 1.1, 0, 0, 0, 7.5, 0.3, 0, 0, 0, 0, 0]
p_mean = [0.75, 1.0, 0.9, 0, 0.5, 2.45, 0.5, 0, 0.2, 0.8, 0, 0.4, 0.6, 1.2, 0.1, 0.5,
          0.6, 0.5, 0.3, 0.5, 0.6, 0.5, 0.2, 0.2, 0.1, 0.2, 0.1, 0.1, 0.1, 0.1, 0.2, 0.1,
          0.3, 0.8, 0.7, 1.1, 1.0, 1.4, 0.5, 0.3, 1.0, 1.0, 0.75, 0.6, 0.85, 0.75, 0.5, 1.3,
          0.5, 1.0, 0.75, 0.5, 0.5, 1.7, 0.2, 0.2, 0.2, 0.75, 0.6, 0.3, 0.5, 0.5, 0.6, 0.3]
p_oper = [0.75, 2.0, 1.6, 0.05, 0, 9.4, 0.3, 0, 0.3, 0, 0, 0, 0, 0.5, 2.6, 0,
          0, 0, 0, 0, 0, 2.6, 2.2, 0.4, 0.4, 4.9, 0, 0, 0, 0, 0, 0,
          0.2, 0.5, 2.4, 0.1, 1.5, 2.6, 3.2, 5.3, 1.8, 1.7, 1.5, 1.2, 0.5, 0, 0, 0,
          0, 1.0, 1.3, 0.7, 1.7, 2.95, 1.95, 0.7, 3.45, 2.95, 0.1, 0, 0, 0, 0, 0.1]

temp_members = [t_p1, t_p2, t_p3, t_p4, t_p5, t_p6, t_p7, t_p8, t_p9, t_p10,
                t_p11, t_p12, t_p13, t_p14, t_p15, t_p16, t_p17, t_p18, t_p19, t_p20,
                t_p21, t_p22, t_p23, t_p24, t_p25, t_p26, t_p27, t_p28, t_p29, t_p30]
prec_members = [p_p1, p_p2, p_p3, p_p4, p_p5, p_p6, p_p7, p_p8, p_p9, p_p10,
                p_p11, p_p12, p_p13, p_p14, p_p15, p_p16, p_p17, p_p18, p_p19, p_p20,
                p_p21, p_p22, p_p23, p_p24, p_p25, p_p26, p_p27, p_p28, p_p29, p_p30]

# member colours cycle every 20
base_colors = ['#1c2fb4', '#1c52b8', '#1c72c0', '#1c98c8', '#16aab0', '#14a07c', '#14a05a',
               '#14a03c', '#18a828', '#28c014', '#c4c014', '#c4a814', '#c49214', '#c48214',
               '#c06e14', '#b86014', '#b44a14', '#a8381c', '#a02414', '#901818']
member_colors = [base_colors[k % 20] for k in range(30)]

C_CONTROL = '#0000ff'
C_MEAN = '#ffffff'
C_OPER = '#10dd10'
C_CLIM = '#e84848'

# --- figure ---
W, H = 850, 620
fig = plt.figure(figsize=(W / 100, H / 100), dpi=100, facecolor='black')
ax = fig.add_axes([163 / W, 1 - 559 / H, (810 - 163) / W, (559 - 30) / H])
ax.set_facecolor('black')
ax2 = ax.twinx()

for k in range(30):
    ax.plot(times, temp_members[k], color=member_colors[k], lw=0.7, zorder=2)
    ax2.plot(times, prec_members[k], color=member_colors[k], lw=0.7, zorder=2)

ax.plot(times, t_clim, color=C_CLIM, lw=3, zorder=3)
ax.plot(times, t_mean, color=C_MEAN, lw=3, zorder=4)
ax.plot(times, t_control, color=C_CONTROL, lw=3, zorder=5)
ax.plot(times, t_oper, color=C_OPER, lw=3, zorder=6)
ax2.plot(times, p_mean, color=C_MEAN, lw=3, zorder=4)
ax2.plot(times, p_control, color=C_CONTROL, lw=3, zorder=5)
ax2.plot(times, p_oper, color=C_OPER, lw=3, zorder=6)

# axes ranges / ticks
ax.set_xlim(pd.Timestamp("2026-08-18 00:00"), pd.Timestamp("2026-09-03 06:00"))
ax.set_ylim(-20, 25)
ax.set_yticks(range(-20, 26, 5))
ax2.set_ylim(0, 40)
ax2.set_yticks(range(0, 41, 10))
ax2.yaxis.set_minor_locator(MultipleLocator(1))

ax.set_xticks(tick_days)
ax.set_xticks(grid_days, minor=True)
ax.xaxis.set_major_formatter(mdates.DateFormatter('%d%b %Hz'))

ax.tick_params(axis='both', which='both', length=0, colors='white', labelsize=7.5)
ax.tick_params(axis='y', pad=6)
ax.tick_params(axis='x', pad=7)
ax2.tick_params(axis='y', which='major', direction='in', length=7, color='#d0d0d0',
                labelcolor='white', labelsize=7.5, pad=5)
ax2.tick_params(axis='y', which='minor', direction='in', length=4, color='#d0d0d0')

ax.grid(True, which='both', axis='x', color='#404040', lw=0.8, ls=(0, (4, 3.5)))
ax.grid(True, which='major', axis='y', color='#404040', lw=0.8, ls=(0, (4, 3.5)))
ax.set_axisbelow(True)

for a in (ax, ax2):
    for s in a.spines.values():
        s.set_color('#d0d0d0')
        s.set_linewidth(1)

ax.set_ylabel('850 hPa Temp. (°C)', color='white', fontsize=7)
ax.yaxis.set_label_coords((131 - 163) / 647, 0.5)
ax2.set_ylabel('Neerslag (mm)', color='white', fontsize=7)
ax2.yaxis.set_label_coords((840 - 163) / 647, 0.5)
ax.set_xlabel('Date (UTC)', color='white', fontsize=7, labelpad=3)

# --- texts ---
fig.text(435 / W, 1 - 12 / H, 'Brussels  (BE)  850 hPa Temp. & Neerslag | Tue, 18Aug2026 06Z',
         color='white', fontsize=11.5, fontweight='bold', ha='center', va='center')
fig.text(120 / W, 1 - 598 / H, 'GFS Ensemble, 51N, 4.5E', color='white', fontsize=11.5,
         ha='left', va='center')
fig.text(793 / W, 1 - 598 / H, 'Wetterzentrale.de', color='white', fontsize=11.5,
         ha='right', va='center')

# --- legend (two columns at the left edge) ---
def legend_entry(x0, x1, y, color, label, lw=1.6):
    fig.lines.append(Line2D([x0 / W, x1 / W], [1 - y / H, 1 - y / H], color=color, lw=lw,
                            transform=fig.transFigure))
    fig.text((x1 + 1) / W, 1 - y / H, label, color='white', fontsize=8, ha='left', va='center',
             linespacing=0.9)

for k in range(30):
    row = k // 2
    y = 40 + 15 * row
    if k % 2 == 0:
        legend_entry(0, 7, y, member_colors[k], 'P%d' % (k + 1))
    else:
        legend_entry(53, 63, y, member_colors[k], 'P%d' % (k + 1))

legend_entry(0, 7, 265, C_CONTROL, 'Control')
legend_entry(53, 63, 265, C_MEAN, 'Ens. mean')
fig.lines.append(Line2D([53 / W, 63 / W], [1 - 292 / H, 1 - 292 / H], color=C_CLIM, lw=1.6,
                        transform=fig.transFigure))
fig.text(64 / W, 1 - 298 / H, '1991-2020\nmean', color='white', fontsize=8, ha='left',
         va='center', linespacing=0.9)
legend_entry(0, 7, 305, C_OPER, 'Oper')

fig.savefig('out.png', dpi=100, facecolor='black')
